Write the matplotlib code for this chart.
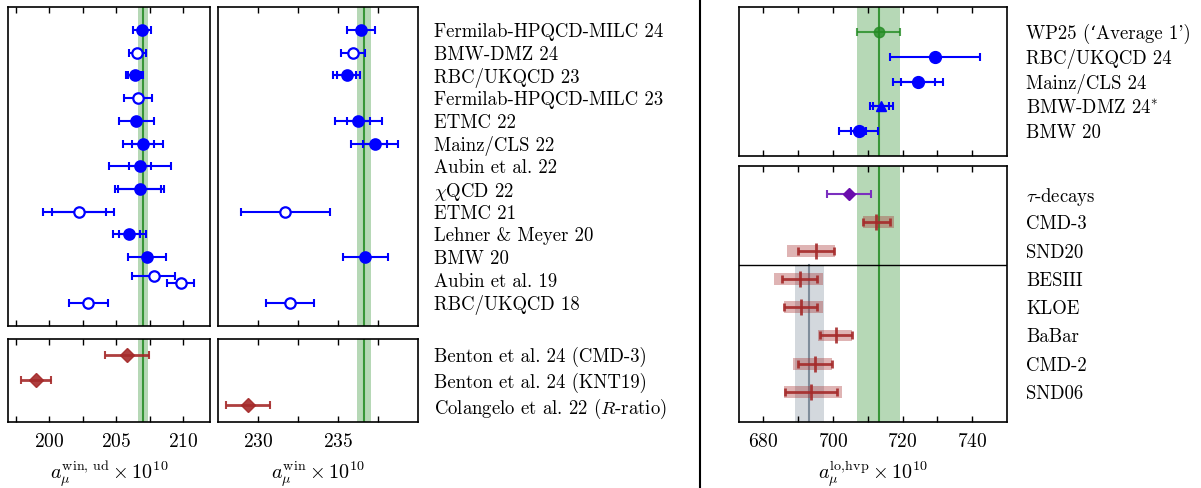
import matplotlib.pyplot as plt
import matplotlib.transforms as mtransforms
from matplotlib.lines import Line2D
from matplotlib.ticker import FixedLocator
import numpy as np

plt.rcParams["font.family"] = ["cmr10", "DejaVu Serif"]
plt.rcParams["mathtext.fontset"] = "cm"
plt.rcParams["axes.formatter.use_mathtext"] = True

nan = np.nan

# --- lattice window results (left block) ---
lattice_labels = [
    "Fermilab-HPQCD-MILC 24", "BMW-DMZ 24", "RBC/UKQCD 23", "Fermilab-HPQCD-MILC 23",
    "ETMC 22", "Mainz/CLS 22", "Aubin et al. 22", r"$\chi$QCD 22", "ETMC 21",
    "Lehner & Meyer 20", "BMW 20", "Aubin et al. 19", "RBC/UKQCD 18",
]
ud_rows = [0, 1, 2, 3, 4, 5, 6, 7, 8, 9, 10, 10.85, 11.15, 12]
ud_vals = [206.93, 206.58, 206.36, 206.60, 206.50, 207.00, 206.78, 206.73, 202.19, 205.98, 207.30, 207.80, 209.80, 202.89]
ud_err = [0.65, 0.66, 0.63, 1.05, 1.33, 1.50, 2.30, 1.82, 2.65, 1.24, 1.41, 1.62, 1.00, 1.46]
ud_stat = [nan, nan, 0.50, nan, nan, 0.80, 0.83, 1.60, 2.00, 0.80, nan, nan, nan, nan]
ud_open = [False, True, False, True, False, False, False, False, True, False, False, True, True, True]

win_rows = [0, 1, 2, 4, 5, 8, 10, 12]
win_vals = [236.46, 235.94, 235.54, 236.27, 237.29, 231.71, 236.71, 232.00]
win_err = [0.87, 0.73, 0.83, 1.45, 1.46, 2.80, 1.40, 1.48]
win_stat = [nan, nan, 0.60, 0.70, 0.75, nan, nan, nan]
win_open = [False, True, False, False, False, True, False, True]

ud_band = (207.0, 0.40)
win_band = (236.6, 0.44)

# data-driven window results
pheno_labels = ["Benton et al. 24 (CMD-3)", "Benton et al. 24 (KNT19)", r"Colangelo et al. 22 ($R$-ratio)"]
pheno_ud_rows = [0, 1]
pheno_ud_vals = [205.81, 199.00]
pheno_ud_err = [1.65, 1.13]
pheno_win_rows = [2]
pheno_win_vals = [229.38]
pheno_win_err = [1.40]

# --- full LO HVP (right block) ---
hvp_lat_labels = ["WP25 (‘Average 1')", "RBC/UKQCD 24", "Mainz/CLS 24", r"BMW-DMZ 24$^{*}$", "BMW 20"]
hvp_lat_vals = [729.3, 724.4, 713.9, 707.4]
hvp_lat_err = [13.0, 7.1, 3.3, 5.55]
hvp_lat_stat = [nan, 4.9, 2.3, 2.2]
wp25_val, wp25_err = 713.1, 6.1

exp_labels = [r"$\tau$-decays", "CMD-3", "SND20", "BESIII", "KLOE", "BaBar", "CMD-2", "SND06"]
tau_val, tau_err = 704.5, 6.3
ee_vals = [712.5, 695.1, 690.4, 690.7, 700.9, 694.9, 693.8]
ee_err = [4.0, 5.2, 5.0, 4.85, 4.55, 4.85, 7.45]
ee_box_lo = [708.6, 686.9, 683.1, 685.9, 695.7, 688.6, 685.9]
ee_box_hi = [717.4, 700.5, 697.0, 697.1, 705.6, 699.7, 702.7]
ee_avg = (693.2, 4.1)

W, H = 1201, 488
BLUE = "#0000ff"
RED = "#a52a2a"
GREEN = "forestgreen"
LABEL_SIZE = 13.5
TICK_SIZE = 14
AXLABEL_SIZE = 14.5

fig = plt.figure(figsize=(W / 100, H / 100), dpi=100)


def px_axes(left, top, right, bottom):
    return fig.add_axes([left / W, 1 - bottom / H, (right - left) / W, (bottom - top) / H])


def style(ax, xlim, ylim, major, minor, labels):
    ax.set_xlim(*xlim)
    ax.set_ylim(*ylim)
    ax.set_yticks([])
    ax.xaxis.set_major_locator(FixedLocator(major))
    ax.xaxis.set_minor_locator(FixedLocator(minor))
    ax.tick_params(axis="x", which="both", direction="in", top=True, bottom=True,
                   length=4.5, width=1, labelbottom=labels, labelsize=TICK_SIZE, pad=8)
    for s in ax.spines.values():
        s.set_linewidth(1.2)


def band(ax, center, half, color, alpha, ymin=0, ymax=1):
    ax.axvspan(center - half, center + half, ymin=ymin, ymax=ymax, color=color, alpha=alpha, lw=0, zorder=0)
    ax.axvline(center, ymin=ymin, ymax=ymax, color=color, lw=1.5, alpha=0.85, zorder=1)


def lattice_points(ax, rows, vals, err, stat, open_flags):
    ax.errorbar(vals, rows, xerr=err, fmt="none", ecolor=BLUE, elinewidth=1.5, capsize=3, capthick=1.5, zorder=3)
    ax.errorbar(vals, rows, xerr=stat, fmt="none", ecolor=BLUE, elinewidth=1.5, capsize=3, capthick=1.5, zorder=3)
    for r, v, o in zip(rows, vals, open_flags):
        ax.plot(v, r, "o", ms=7.5, mfc="white" if o else BLUE, mec=BLUE, mew=1.6, zorder=4)


def row_labels(ax, x_px, labels):
    trans = mtransforms.blended_transform_factory(fig.transFigure, ax.transData)
    for i, lab in enumerate(labels):
        ax.text(x_px / W, i, lab, transform=trans, fontsize=LABEL_SIZE, va="center_baseline", ha="left")


# left block
ax_ud = px_axes(8, 7, 210, 326)
ax_win = px_axes(218, 7, 418, 326)
ax_ud2 = px_axes(8, 339, 210, 422)
ax_win2 = px_axes(218, 339, 418, 422)

for ax in (ax_ud, ax_ud2):
    band(ax, *ud_band, GREEN, 0.33)
for ax in (ax_win, ax_win2):
    band(ax, *win_band, GREEN, 0.33)

lattice_points(ax_ud, ud_rows, ud_vals, ud_err, ud_stat, ud_open)
lattice_points(ax_win, win_rows, win_vals, win_err, win_stat, win_open)

for ax, rows, vals, err in ((ax_ud2, pheno_ud_rows, pheno_ud_vals, pheno_ud_err),
                            (ax_win2, pheno_win_rows, pheno_win_vals, pheno_win_err)):
    ax.errorbar(vals, rows, xerr=err, fmt="D", ms=7, color=RED, ecolor=RED, elinewidth=2,
                capsize=3, capthick=1.5, alpha=0.9, zorder=3)

style(ax_ud, (196.9, 212.0), (13.03, -1.01), [200, 205, 210], [197.5, 202.5, 207.5], False)
style(ax_ud2, (196.9, 212.0), (2.67, -0.63), [200, 205, 210], [197.5, 202.5, 207.5], True)
style(ax_win, (227.5, 240.0), (13.03, -1.01), [230, 235], [232.5, 237.5], False)
style(ax_win2, (227.5, 240.0), (2.67, -0.63), [230, 235], [232.5, 237.5], True)

ax_ud2.set_xlabel(r"$a_\mu^{\mathrm{win,\,ud}}\times 10^{10}$", fontsize=AXLABEL_SIZE, labelpad=6)
ax_win2.set_xlabel(r"$a_\mu^{\mathrm{win}}\times 10^{10}$", fontsize=AXLABEL_SIZE, labelpad=6)

row_labels(ax_win, 434, lattice_labels)
row_labels(ax_win2, 434, pheno_labels)

# right block
ax_lat = px_axes(739, 7, 1007, 156)
ax_exp = px_axes(739, 166, 1007, 422)

band(ax_lat, wp25_val, wp25_err, GREEN, 0.33)
band(ax_exp, wp25_val, wp25_err, GREEN, 0.33)

ax_lat.errorbar([wp25_val], [0], xerr=[wp25_err], fmt="o", ms=7.5, color=GREEN, ecolor=GREEN,
                elinewidth=1.5, capsize=3, capthick=1.5, alpha=0.8, zorder=3)
lat_rows = [1, 2, 3, 4]
lat_markers = ["o", "o", "^", "o"]
ax_lat.errorbar(hvp_lat_vals, lat_rows, xerr=hvp_lat_err, fmt="none", ecolor=BLUE, elinewidth=1.5,
                capsize=3, capthick=1.5, zorder=3)
ax_lat.errorbar(hvp_lat_vals, lat_rows, xerr=hvp_lat_stat, fmt="none", ecolor=BLUE, elinewidth=1.5,
                capsize=3, capthick=1.5, zorder=3)
for r, v, m in zip(lat_rows, hvp_lat_vals, lat_markers):
    ax_lat.plot(v, r, m, ms=8.5 if m == "o" else 6.5, color=BLUE, zorder=4)

# e+e- average band only over the e+e- rows (below the divider)
ylim_exp = (8.06, -0.99)
frac_div = (ylim_exp[0] - 2.5) / (ylim_exp[0] - ylim_exp[1])
band(ax_exp, ee_avg[0], ee_avg[1], "slategray", 0.3, ymin=0, ymax=frac_div)
ax_exp.axhline(2.5, color="black", lw=1, zorder=2)

ax_exp.errorbar([tau_val], [0], xerr=[tau_err], fmt="D", ms=6.5, color="#6a0dad", ecolor="#7b2fbf",
                elinewidth=1.5, capsize=3, capthick=1.5, zorder=3)
ee_rows = np.arange(1, 8)
ax_exp.barh(ee_rows, np.array(ee_box_hi) - np.array(ee_box_lo), left=ee_box_lo, height=0.42,
            color=RED, alpha=0.35, lw=0, zorder=2)
ax_exp.errorbar(ee_vals, ee_rows, xerr=ee_err, fmt="|", ms=11, mew=2, color=RED, ecolor=RED,
                elinewidth=2, capsize=3, capthick=1.5, alpha=0.9, zorder=3)

style(ax_lat, (673, 750), (5.0, -1.0), [680, 700, 720, 740], [690, 710, 730], False)
style(ax_exp, (673, 750), ylim_exp, [680, 700, 720, 740], [690, 710, 730], True)
ax_exp.set_xlabel(r"$a_\mu^{\mathrm{lo{,}hvp}}\times 10^{10}$", fontsize=AXLABEL_SIZE, labelpad=6)

row_labels(ax_lat, 1026, hvp_lat_labels)
row_labels(ax_exp, 1026, exp_labels)

fig.add_artist(Line2D([700 / W, 700 / W], [0, 1], color="black", lw=1.5, transform=fig.transFigure))

fig.savefig("out.png", dpi=100)
